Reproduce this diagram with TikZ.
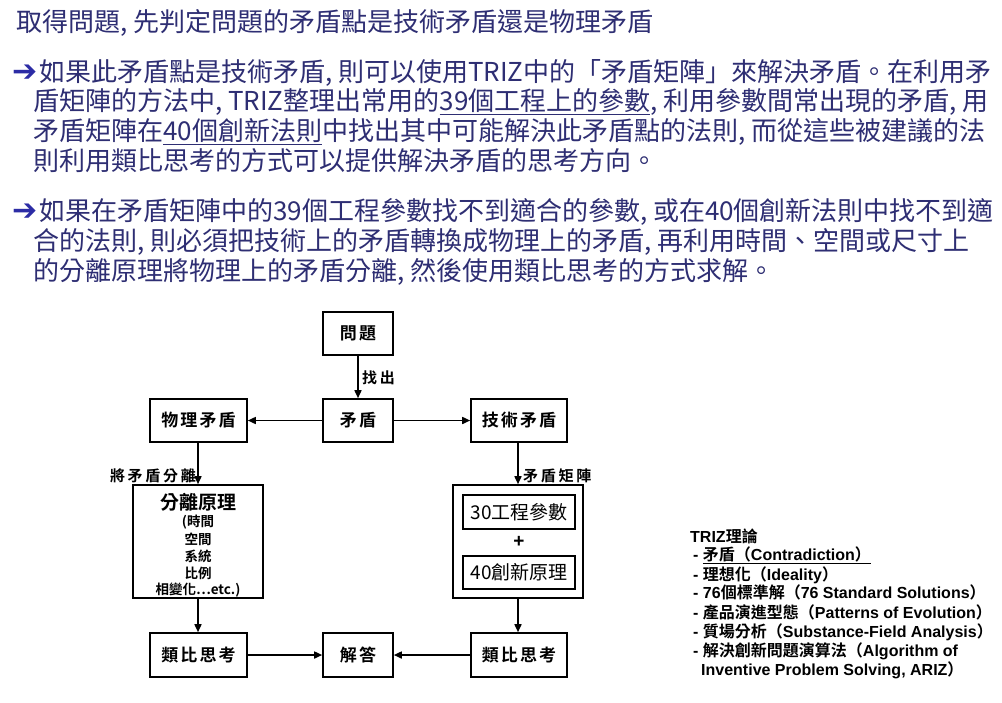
\documentclass[tikz,border=0pt]{standalone}
\usepackage{fontspec}
\setmainfont{Liberation Sans}
\newfontfamily\cjk{Noto Sans CJK TC}[BoldFont={Noto Sans CJK TC Bold}]
\newfontfamily\cjkw{Noto Sans CJK TC}[BoldFont={Noto Sans CJK TC Bold}, LetterSpace=12]
\newfontfamily\cjkww{Noto Sans CJK TC}[BoldFont={Noto Sans CJK TC Bold}, LetterSpace=18]
\newfontfamily\dejavu{DejaVu Sans}
\usetikzlibrary{arrows.meta}
\definecolor{navy}{RGB}{46,46,115}
\definecolor{arrowblue}{RGB}{44,44,165}
\begin{document}
\begin{tikzpicture}[x=1pt,y=-1pt,
  body/.style={anchor=base west, inner sep=0pt, font=\cjk\fontsize{26}{28}\selectfont, text=navy},
  bullet/.style={anchor=base west, inner sep=0pt, font=\dejavu\fontsize{30}{31}\selectfont, text=arrowblue},
  box/.style={draw, line width=1.6pt, inner sep=0pt, font=\cjkw\bfseries\fontsize{17}{19}\selectfont, align=center},
  inner/.style={draw, line width=1.1pt, inner sep=0pt, font=\cjk\fontsize{19}{21}\selectfont},
  lbl/.style={inner sep=0pt, font=\cjkww\bfseries\fontsize{15}{17}\selectfont},
  small/.style={inner sep=0pt, font=\cjk\bfseries\fontsize{13.5}{15}\selectfont},
  conn/.style={line width=1.6pt, -{Triangle[length=8pt,width=7pt]}},
  item/.style={anchor=base west, inner sep=0pt, font=\bfseries\fontsize{16}{18}\selectfont}
]
\fill[white] (0,0) rectangle (1002,702);
\useasboundingbox (0,0) rectangle (1002,702);

% ---------- text ----------
\node[body] (t0) at (16,31.5) {取得問題, 先判定問題的矛盾點是技術矛盾還是物理矛盾};

\node[bullet] (b1) at (12,81.5) {➔};
\node[body] (p1a) at (39,81.5) {如果此矛盾點是技術矛盾, 則可以使用TRIZ中的「矛盾矩陣」來解決矛盾。在利用矛};
\node[body] (p1b) at (33,110.5) {盾矩陣的方法中, TRIZ整理出常用的\underline{39個工程上的參數}, 利用參數間常出現的矛盾, 用};
\node[body] (p1c) at (33,140.5) {矛盾矩陣在\underline{40個創新法則}中找出其中可能解決此矛盾點的法則, 而從這些被建議的法};
\node[body] (p1d) at (33,170.5) {則利用類比思考的方式可以提供解決矛盾的思考方向。};

\node[bullet] (b2) at (12,220.5) {➔};
\node[body] (p2a) at (39,220.5) {如果在矛盾矩陣中的39個工程參數找不到適合的參數, 或在40個創新法則中找不到適};
\node[body] (p2b) at (33,250.5) {合的法則, 則必須把技術上的矛盾轉換成物理上的矛盾, 再利用時間、空間或尺寸上};
\node[body] (p2c) at (33,280.5) {的分離原理將物理上的矛盾分離, 然後使用類比思考的方式求解。};

% ---------- diagram ----------
\node[box, minimum width=70, minimum height=43] (wt) at (358,333.5) {問題};
\node[box, minimum width=70, minimum height=43] (md) at (358,420.5) {矛盾};
\node[box, minimum width=97, minimum height=43] (wl) at (198.5,420.5) {物理矛盾};
\node[box, minimum width=96, minimum height=43] (js) at (519,420.5) {技術矛盾};

\node[box, minimum width=130, minimum height=113] (fl) at (198,541.5) {};
\node[inner sep=0pt, font=\cjk\bfseries\fontsize{19}{21}\selectfont] (flt) at (198,502) {分離原理};
\node[small] (f1) at (198,522) {(時間};
\node[small] (f2) at (198,539) {空間};
\node[small] (f3) at (198,556) {系統};
\node[small] (f4) at (198,573) {比例};
\node[small] (f5) at (198,590) {相變化…etc.)};

\node[box, minimum width=130, minimum height=113] (jz) at (518,541.5) {};
\node[inner, minimum width=112, minimum height=34] (i1) at (519,512) {30工程參數};
\node[inner sep=0pt, font=\bfseries\fontsize{19}{20}\selectfont] (plus) at (519,542) {+};
\node[inner, minimum width=112, minimum height=33] (i2) at (519,572.5) {40創新原理};

\node[box, minimum width=97, minimum height=44] (lbL) at (198.5,655) {類比思考};
\node[box, minimum width=70, minimum height=44] (ans) at (358,655) {解答};
\node[box, minimum width=96, minimum height=44] (lbR) at (519,655) {類比思考};

\draw[conn] (wt) -- (md);
\draw[conn] (md) -- (wl);
\draw[conn] (md) -- (js);
\draw[conn] (wl.south -| fl.north) -- (fl.north);
\draw[conn] (js.south -| jz.north) -- (jz.north);
\draw[conn] (fl.south) -- (fl.south |- lbL.north);
\draw[conn] (jz.south) -- (jz.south |- lbR.north);
\draw[conn] (lbL) -- (ans);
\draw[conn] (lbR) -- (ans);

\node[lbl, anchor=west] (l1) at (362,378) {找出};
\node[lbl, anchor=east] (l2) at (196,476) {將矛盾分離};
\node[lbl, anchor=west] (l3) at (523,476) {矛盾矩陣};

% ---------- TRIZ list ----------
\node[item] (r0) at (690,542.5) {TRIZ{\cjk 理論}};
\node[item] (r1) at (693,560.5) {- \underline{{\cjk 矛盾（}Contradiction{\cjk ）}}};
\node[item] (r2) at (693,580) {- {\cjk 理想化（}Ideality{\cjk ）}};
\node[item] (r3) at (693,598.5) {- 76{\cjk 個標準解（}76 Standard Solutions{\cjk ）}};
\node[item] (r4) at (693,618) {- {\cjk 產品演進型態（}Patterns of Evolution{\cjk ）}};
\node[item] (r5) at (693,637) {- {\cjk 質場分析（}Substance-Field Analysis{\cjk ）}};
\node[item] (r6) at (693,656) {- {\cjk 解決創新問題演算法（}Algorithm of};
\node[item] (r7) at (701,675.5) {Inventive Problem Solving, ARIZ{\cjk ）}};
\end{tikzpicture}
\end{document}
